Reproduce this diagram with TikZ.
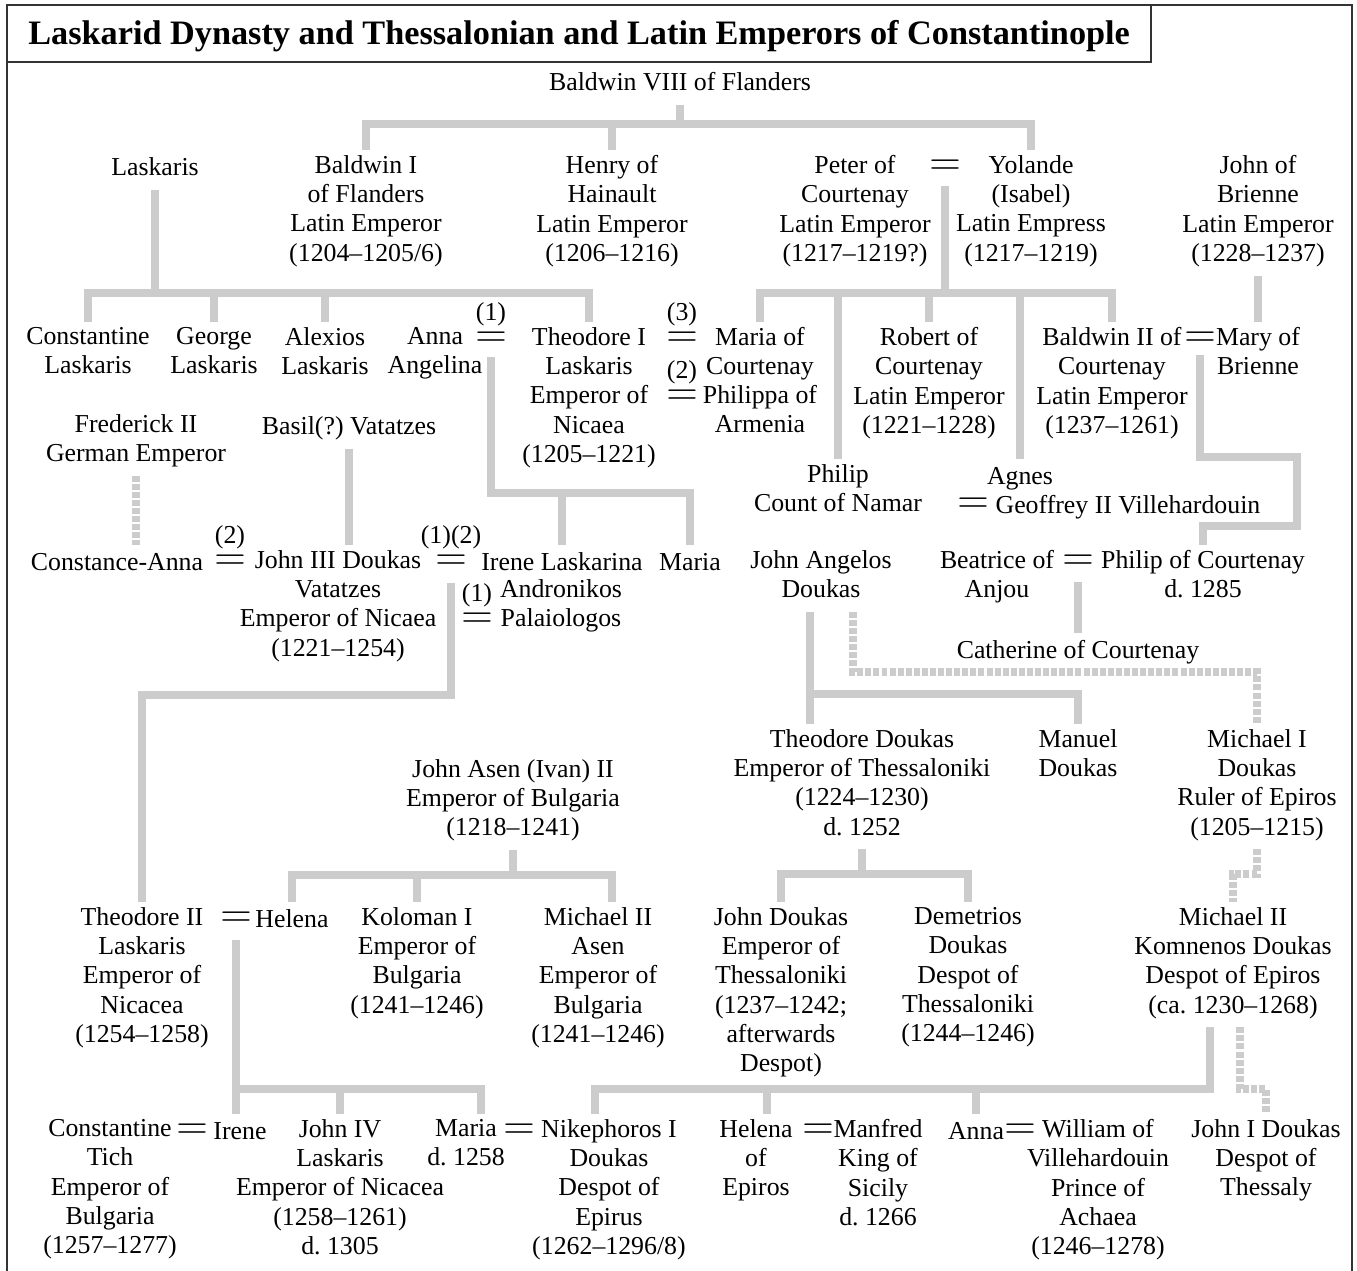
\documentclass[tikz,border=0pt]{standalone}
\usepackage{fontspec}
\setmainfont{Liberation Serif}
\usepackage{tikz}
\definecolor{kingray}{RGB}{204,204,204}
\definecolor{framegray}{RGB}{51,51,51}
\newcommand{\persfont}{\fontsize{14.7}{16.7}\selectfont\frenchspacing}
\newcommand{\wedfont}{\fontsize{23}{23}\selectfont}
\newcommand{\titlefont}{\fontsize{19.5}{22}\selectfont\bfseries}

\begin{document}
\begin{tikzpicture}[x=0.02cm, y=-0.02cm,
  pers/.style={align=center, anchor=north, inner sep=0pt, outer ysep=3pt, font=\persfont,
    execute at begin node=\strut, execute at end node=\strut},
  wed/.style={inner sep=0pt, font=\wedfont},
  num/.style={inner sep=0pt, font=\persfont},
  kin/.style={line width=4pt, draw=kingray},
  maybe/.style={kin, dash pattern=on 3.4pt off 1.2pt},
  frame/.style={line width=1.2pt, draw=framegray}]
\useasboundingbox (0,0) rectangle (1357,1271);
\draw[frame] (7,1271) |- (1352,5) -- (1352,1271);
\draw[frame] (7,62) -| (1151,5);
\node[anchor=base west, inner sep=0pt, font=\titlefont] (title) at (28,45) {Laskarid Dynasty and Thessalonian and Latin Emperors of Constantinople};

\coordinate (bvbar) at (0,124);
\coordinate (lbar) at (0,293);
\coordinate (pbar) at (0,293);
\coordinate (abar) at (0,493);
\coordinate (cbar) at (0,672);
\coordinate (jbar) at (0,694);
\coordinate (dbar) at (0,695);
\coordinate (tbar) at (0,874);
\coordinate (asbar) at (0,875);
\coordinate (hbar) at (0,1089);
\coordinate (bendtop) at (1297,457);
\coordinate (bendbot) at (1297,526);

\node[pers] (baldwinviii) at (680,65) {Baldwin VIII of Flanders};

\node[pers] (laskaris) at (155,150) {Laskaris};
\node[pers] (baldwini) at (366,150) {Baldwin I\\of Flanders\\Latin Emperor\\(1204--1205/6)};
\node[pers] (henry) at (612,150) {Henry of\\Hainault\\Latin Emperor\\(1206--1216)};
\node[pers] (peter) at (855,150) {Peter of\\Courtenay\\Latin Emperor\\(1217--1219?)};
\node[wed] (peterwed) at (945,168) {$=$};
\node[pers] (yolande) at (1031,150) {Yolande\\(Isabel)\\Latin Empress\\(1217--1219)};
\node[pers] (johnb) at (1258,150) {John of\\Brienne\\Latin Emperor\\(1228--1237)};

\node[pers] (constl) at (88,322) {Constantine\\Laskaris};
\node[pers] (georgel) at (214,322) {George\\Laskaris};
\node[pers] (alexiosl) at (325,322) {Alexios\\Laskaris};
\node[pers] (annaa) at (435,322) {Anna\\Angelina};
\node[wed, label={[num, label distance=3pt]above:(1)}] (annawed) at (491,340) {$=$};
\node[pers] (theoi) at (589,322) {Theodore I\\Laskaris\\Emperor of\\Nicaea\\(1205--1221)};
\node[wed, label={[num, label distance=3pt]above:(3)}] (theowedc) at (682,340) {$=$};
\node[wed, label={[num, label distance=3pt]above:(2)}] (theowedb) at (682,398) {$=$};
\node[pers] (mariac) at (760,322) {Maria of\\Courtenay};
\node[pers] (philippa) at (760,380) {Philippa of\\Armenia};
\node[pers] (robert) at (929,322) {Robert of\\Courtenay\\Latin Emperor\\(1221--1228)};
\node[pers] (baldwinii) at (1112,322) {Baldwin II of\\Courtenay\\Latin Emperor\\(1237--1261)};
\node[wed] (bwwed) at (1200,340) {$=$};
\node[pers] (maryb) at (1258,322) {Mary of\\Brienne};

\node[pers] (frederick) at (136,409) {Frederick II\\German Emperor};
\node[pers] (basil) at (349,409) {Basil(?) Vatatzes};
\node[pers] (philipn) at (838,459) {Philip\\Count of Namar};
\node[pers] (agnes) at (1020,459) {Agnes};
\node[wed] (geoffwed) at (973,506) {$=$};
\node[pers] (geoffrey) at (1128,488) {Geoffrey II Villehardouin};

\node[pers] (constance) at (117,545) {Constance-Anna};
\node[wed, label={[num, label distance=3pt]above:(2)}] (constwed) at (230,563) {$=$};
\node[pers] (johniii) at (338,545) {John III Doukas\\Vatatzes\\Emperor of Nicaea\\(1221--1254)};
\node[wed, label={[num, label distance=3pt]above:(1)(2)}] (johnwed) at (451,563) {$=$};
\node[pers] (irenel) at (562,545) {Irene Laskarina};
\node[wed, label={[num, label distance=3pt]above:(1)}] (irenewed) at (477,621) {$=$};
\node[pers] (andronikos) at (561,574) {Andronikos\\Palaiologos};
\node[pers] (mariad) at (690,545) {Maria};
\node[pers] (johna) at (821,545) {John Angelos\\Doukas};
\node[pers] (beatrice) at (997,545) {Beatrice of\\Anjou};
\node[wed] (beawed) at (1078,563) {$=$};
\node[pers] (philipc) at (1203,545) {Philip of Courtenay\\d. 1285};
\node[pers] (catherine) at (1078,633) {Catherine of Courtenay};

\node[pers] (theodored) at (862,724) {Theodore Doukas\\Emperor of Thessaloniki\\(1224--1230)\\d. 1252};
\node[pers] (manuel) at (1078,724) {Manuel\\Doukas};
\node[pers] (michaeli) at (1257,724) {Michael I\\Doukas\\Ruler of Epiros\\(1205--1215)};
\node[pers] (johnasen) at (513,754) {John Asen (Ivan) II\\Emperor of Bulgaria\\(1218--1241)};

\node[pers] (theoii) at (142,902) {Theodore II\\Laskaris\\Emperor of\\Nicacea\\(1254--1258)};
\node[wed] (thwed) at (236,920) {$=$};
\node[pers] (helena) at (292,902) {Helena};
\node[pers] (koloman) at (417,902) {Koloman I\\Emperor of\\Bulgaria\\(1241--1246)};
\node[pers] (michaelasen) at (598,902) {Michael II\\Asen\\Emperor of\\Bulgaria\\(1241--1246)};
\node[pers] (johnd) at (781,902) {John Doukas\\Emperor of\\Thessaloniki\\(1237--1242;\\afterwards\\Despot)};
\node[pers] (demetrios) at (968,902) {Demetrios\\Doukas\\Despot of\\Thessaloniki\\(1244--1246)};
\node[pers] (michaelii) at (1233,902) {Michael II\\Komnenos Doukas\\Despot of Epiros\\(ca. 1230--1268)};

\node[pers] (constt) at (110,1114) {Constantine\\Tich\\Emperor of\\Bulgaria\\(1257--1277)};
\node[wed] (consttwed) at (192,1132) {$=$};
\node[pers] (irene) at (240,1114) {Irene};
\node[pers] (johniv) at (340,1114) {John IV\\Laskaris\\Emperor of Nicacea\\(1258--1261)\\d. 1305};
\node[pers] (mariab) at (466,1114) {Maria\\d. 1258};
\node[wed] (mariawed) at (519,1132) {$=$};
\node[pers] (nikephoros) at (609,1114) {Nikephoros I\\Doukas\\Despot of\\Epirus\\(1262--1296/8)};
\node[pers] (helenae) at (756,1114) {Helena\\of\\Epiros};
\node[wed] (helenawed) at (818,1132) {$=$};
\node[pers] (manfred) at (878,1114) {Manfred\\King of\\Sicily\\d. 1266};
\node[pers] (annaw) at (976,1114) {Anna};
\node[wed] (annawwed) at (1020,1132) {$=$};
\node[pers] (william) at (1098,1114) {William of\\Villehardouin\\Prince of\\Achaea\\(1246--1278)};
\node[pers] (johni) at (1266,1114) {John I Doukas\\Despot of\\Thessaly};

\path (johna.south) ++(-11,0) coordinate (ja);
\path (johna.south) ++(32,0) coordinate (jad);
\path (michaelasen.north) ++(14,0) coordinate (ma);
\path (mariab.north) ++(15,0) coordinate (mb);
\path (michaelii.south) ++(-23,0) coordinate (mk);
\path (michaelii.south) ++(7,0) coordinate (mj);
\path (nikephoros.north) ++(-14,0) coordinate (nk);
\path (helenae.north) ++(11,0) coordinate (he);

\draw[kin] (baldwinviii.south) -- (baldwinviii.south |- bvbar);
\draw[kin] (baldwini.north) |- (yolande.north |- bvbar) -- (yolande.north);
\draw[kin] (henry.north) -- (henry.north |- bvbar);

\draw[kin] (laskaris.south) -- (laskaris.south |- lbar);
\draw[kin] (constl.north) |- (theoi.north |- lbar) -- (theoi.north);
\draw[kin] (georgel.north) -- (georgel.north |- lbar);
\draw[kin] (alexiosl.north) -- (alexiosl.north |- lbar);

\draw[kin] (peterwed) ++(0,18) -- (peterwed |- pbar);
\draw[kin] (mariac.north) |- (baldwinii.north |- pbar) -- (baldwinii.north);
\draw[kin] (philipn.north) -- (philipn.north |- pbar);
\draw[kin] (robert.north) -- (robert.north |- pbar);
\draw[kin] (agnes.north) -- (agnes.north |- pbar);
\draw[kin] (johnb.south) -- (maryb.north);

\draw[kin] (annawed) ++(0,17) |- (mariad.north |- abar) -- (mariad.north);
\draw[kin] (irenel.north) -- (irenel.north |- abar);
\draw[kin] (bwwed) ++(0,15) |- (bendtop) -- (bendbot) -| (philipc.north);

\draw[maybe] (frederick.south) -- (frederick.south |- constance.north);
\draw[kin] (basil.south) -- (basil.south |- johniii.north);

\draw[kin] (beawed) ++(0,19) -- (catherine.north);
\draw[maybe] (jad) |- (michaeli.north |- cbar) -- (michaeli.north);
\draw[kin] (ja) -- (ja |- theodored.north);
\draw[kin] (ja |- jbar) -| (manuel.north);

\draw[kin] (johnwed) ++(0,20) |- (theoii.north |- dbar) -- (theoii.north);

\draw[kin] (theodored.south) -- (theodored.south |- tbar);
\draw[kin] (johnd.north) |- (demetrios.north |- tbar) -- (demetrios.north);
\draw[maybe] (michaeli.south) |- (michaelii.north |- tbar) -- (michaelii.north);

\draw[kin] (johnasen.south) -- (johnasen.south |- asbar);
\draw[kin] (helena.north) |- (ma |- asbar) -- (ma);
\draw[kin] (koloman.north) -- (koloman.north |- asbar);

\draw[kin] (thwed) ++(0,20) -- (thwed |- irene.north);
\draw[kin] (thwed |- hbar) -| (mb);
\draw[kin] (johniv.north) -- (johniv.north |- hbar);

\draw[kin] (mk) |- (nk |- hbar) -- (nk);
\draw[kin] (he) -- (he |- hbar);
\draw[kin] (annaw.north) -- (annaw.north |- hbar);
\draw[maybe] (mj) |- (johni.north |- hbar) -- (johni.north);
\end{tikzpicture}
\end{document}
